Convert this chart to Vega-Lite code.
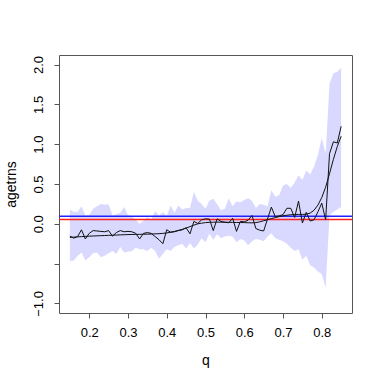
{
  "$schema": "https://vega.github.io/schema/vega-lite/v6.json",
  "autosize": "none",
  "width": 293,
  "height": 258,
  "padding": {"left": 59, "top": 55, "right": 30, "bottom": 69},
  "config": {
    "font": "Liberation Sans",
    "view": {"stroke": "#555", "strokeWidth": 1},
    "axis": {"grid": false, "domain": false, "tickColor": "#555", "tickSize": 5, "labelFontSize": 13, "titleFontSize": 14, "labelColor": "#000", "titleColor": "#000", "titleFontWeight": "normal", "labelFont": "Liberation Sans", "titleFont": "Liberation Sans"}
  },
  "datasets": {"main": [
    {"q":0.15,"y":-0.155,"fit":-0.17,"lo":-0.47,"hi":0.18},
    {"q":0.16,"y":-0.18,"fit":-0.167,"lo":-0.46,"hi":0.15},
    {"q":0.17,"y":-0.16,"fit":-0.164,"lo":-0.40,"hi":0.15},
    {"q":0.18,"y":-0.075,"fit":-0.161,"lo":-0.36,"hi":0.22},
    {"q":0.19,"y":-0.19,"fit":-0.158,"lo":-0.46,"hi":0.105},
    {"q":0.20,"y":-0.12,"fit":-0.155,"lo":-0.42,"hi":0.11},
    {"q":0.21,"y":-0.085,"fit":-0.153,"lo":-0.37,"hi":0.19},
    {"q":0.22,"y":-0.09,"fit":-0.151,"lo":-0.36,"hi":0.22},
    {"q":0.23,"y":-0.095,"fit":-0.149,"lo":-0.42,"hi":0.25},
    {"q":0.24,"y":-0.10,"fit":-0.147,"lo":-0.40,"hi":0.24},
    {"q":0.25,"y":-0.085,"fit":-0.145,"lo":-0.37,"hi":0.245},
    {"q":0.26,"y":-0.155,"fit":-0.143,"lo":-0.34,"hi":0.105},
    {"q":0.27,"y":-0.11,"fit":-0.141,"lo":-0.38,"hi":0.12},
    {"q":0.28,"y":-0.085,"fit":-0.139,"lo":-0.29,"hi":0.14},
    {"q":0.29,"y":-0.10,"fit":-0.137,"lo":-0.36,"hi":0.21},
    {"q":0.30,"y":-0.095,"fit":-0.135,"lo":-0.35,"hi":0.11},
    {"q":0.31,"y":-0.10,"fit":-0.134,"lo":-0.34,"hi":0.09},
    {"q":0.32,"y":-0.12,"fit":-0.133,"lo":-0.30,"hi":0.05},
    {"q":0.33,"y":-0.19,"fit":-0.132,"lo":-0.32,"hi":0.0},
    {"q":0.34,"y":-0.12,"fit":-0.131,"lo":-0.32,"hi":0.04},
    {"q":0.35,"y":-0.11,"fit":-0.13,"lo":-0.34,"hi":0.085},
    {"q":0.36,"y":-0.12,"fit":-0.128,"lo":-0.30,"hi":0.05},
    {"q":0.37,"y":-0.16,"fit":-0.126,"lo":-0.34,"hi":0.16},
    {"q":0.38,"y":-0.20,"fit":-0.124,"lo":-0.44,"hi":0.105},
    {"q":0.39,"y":-0.25,"fit":-0.12,"lo":-0.38,"hi":0.146},
    {"q":0.40,"y":-0.075,"fit":-0.115,"lo":-0.32,"hi":0.10},
    {"q":0.41,"y":-0.105,"fit":-0.106,"lo":-0.34,"hi":0.23},
    {"q":0.42,"y":-0.10,"fit":-0.095,"lo":-0.29,"hi":0.14},
    {"q":0.43,"y":-0.085,"fit":-0.083,"lo":-0.27,"hi":0.23},
    {"q":0.44,"y":-0.075,"fit":-0.07,"lo":-0.25,"hi":0.18},
    {"q":0.45,"y":-0.05,"fit":-0.053,"lo":-0.31,"hi":0.20},
    {"q":0.46,"y":-0.125,"fit":-0.035,"lo":-0.24,"hi":0.20},
    {"q":0.47,"y":0.03,"fit":-0.017,"lo":-0.31,"hi":0.40},
    {"q":0.48,"y":0.005,"fit":0.0,"lo":-0.26,"hi":0.29},
    {"q":0.49,"y":0.05,"fit":0.008,"lo":-0.18,"hi":0.25},
    {"q":0.50,"y":0.063,"fit":0.015,"lo":-0.23,"hi":0.19},
    {"q":0.51,"y":0.06,"fit":0.018,"lo":-0.125,"hi":0.29},
    {"q":0.52,"y":-0.085,"fit":0.02,"lo":-0.20,"hi":0.315},
    {"q":0.53,"y":0.063,"fit":0.021,"lo":-0.13,"hi":0.25},
    {"q":0.54,"y":0.03,"fit":0.021,"lo":-0.18,"hi":0.17},
    {"q":0.55,"y":0.02,"fit":0.02,"lo":-0.16,"hi":0.19},
    {"q":0.56,"y":0.013,"fit":0.019,"lo":-0.15,"hi":0.32},
    {"q":0.57,"y":0.07,"fit":0.018,"lo":-0.16,"hi":0.22},
    {"q":0.58,"y":-0.095,"fit":0.017,"lo":-0.23,"hi":0.28},
    {"q":0.59,"y":0.03,"fit":0.016,"lo":-0.19,"hi":0.27},
    {"q":0.60,"y":0.025,"fit":0.015,"lo":-0.21,"hi":0.30},
    {"q":0.61,"y":0.045,"fit":0.013,"lo":-0.27,"hi":0.32},
    {"q":0.62,"y":0.105,"fit":0.012,"lo":-0.22,"hi":0.29},
    {"q":0.63,"y":-0.06,"fit":0.015,"lo":-0.19,"hi":0.20},
    {"q":0.64,"y":-0.08,"fit":0.025,"lo":-0.20,"hi":0.25},
    {"q":0.65,"y":-0.09,"fit":0.038,"lo":-0.22,"hi":0.24},
    {"q":0.66,"y":0.06,"fit":0.052,"lo":-0.16,"hi":0.22},
    {"q":0.67,"y":0.21,"fit":0.066,"lo":-0.12,"hi":0.42},
    {"q":0.68,"y":0.09,"fit":0.078,"lo":-0.18,"hi":0.34},
    {"q":0.69,"y":0.10,"fit":0.09,"lo":-0.20,"hi":0.36},
    {"q":0.70,"y":0.115,"fit":0.1,"lo":-0.22,"hi":0.48},
    {"q":0.71,"y":0.195,"fit":0.108,"lo":-0.25,"hi":0.50},
    {"q":0.72,"y":0.195,"fit":0.114,"lo":-0.30,"hi":0.45},
    {"q":0.73,"y":0.08,"fit":0.117,"lo":-0.34,"hi":0.52},
    {"q":0.74,"y":0.285,"fit":0.118,"lo":-0.32,"hi":0.61},
    {"q":0.75,"y":0.01,"fit":0.118,"lo":-0.45,"hi":0.55},
    {"q":0.76,"y":0.145,"fit":0.12,"lo":-0.40,"hi":0.67},
    {"q":0.77,"y":0.035,"fit":0.135,"lo":-0.52,"hi":0.62},
    {"q":0.78,"y":0.05,"fit":0.17,"lo":-0.55,"hi":0.72},
    {"q":0.79,"y":0.15,"fit":0.235,"lo":-0.60,"hi":0.86},
    {"q":0.80,"y":0.26,"fit":0.33,"lo":-0.63,"hi":1.08},
    {"q":0.81,"y":0.05,"fit":0.46,"lo":-0.80,"hi":0.88},
    {"q":0.82,"y":0.88,"fit":0.63,"lo":0.10,"hi":1.76},
    {"q":0.83,"y":1.03,"fit":0.81,"lo":0.15,"hi":1.89},
    {"q":0.84,"y":1.015,"fit":0.97,"lo":0.18,"hi":1.91},
    {"q":0.85,"y":1.225,"fit":1.1,"lo":0.21,"hi":1.96}
  ],
  "hlines": [{"name": "ref"}]},
  "layer": [
    {"data": {"name": "main"},
     "mark": {"type": "area", "color": "#d9d9ff", "opacity": 1},
     "encoding": {
       "x": {"field": "q", "type": "quantitative",
         "scale": {"domain": [0.122, 0.878], "nice": false, "zero": false},
         "axis": {"title": "q", "values": [0.2,0.3,0.4,0.5,0.6,0.7,0.8], "format": ".1f", "labelPadding": 8, "titlePadding": 14}},
       "y": {"field": "lo", "type": "quantitative",
         "scale": {"domain": [-1.12, 2.12], "nice": false, "zero": false},
         "axis": {"title": "agetrns", "values": [-1,-0.5,0,0.5,1,1.5,2], "labelExpr": "datum.value == -0.5 ? '' : format(datum.value, '.1f')", "labelAngle": -90, "labelAlign": "center", "labelBaseline": "bottom", "labelPadding": 9, "titlePadding": 14}},
       "y2": {"field": "hi"}
     }},
    {"data": {"name": "hlines"},
     "mark": {"type": "rule", "stroke": "#ff2020", "strokeWidth": 1.3}, "encoding": {"y": {"datum": 0.054, "type": "quantitative"}}},
    {"data": {"name": "hlines"},
     "mark": {"type": "rule", "stroke": "#2020ff", "strokeWidth": 1.3}, "encoding": {"y": {"datum": 0.095, "type": "quantitative"}}},
    {"data": {"name": "main"},
     "mark": {"type": "line", "color": "#111", "strokeWidth": 1},
     "encoding": {"x": {"field": "q", "type": "quantitative"}, "y": {"field": "y", "type": "quantitative"}}},
    {"data": {"name": "main"},
     "mark": {"type": "line", "color": "#111", "strokeWidth": 1},
     "encoding": {"x": {"field": "q", "type": "quantitative"}, "y": {"field": "fit", "type": "quantitative"}}}
  ]
}
